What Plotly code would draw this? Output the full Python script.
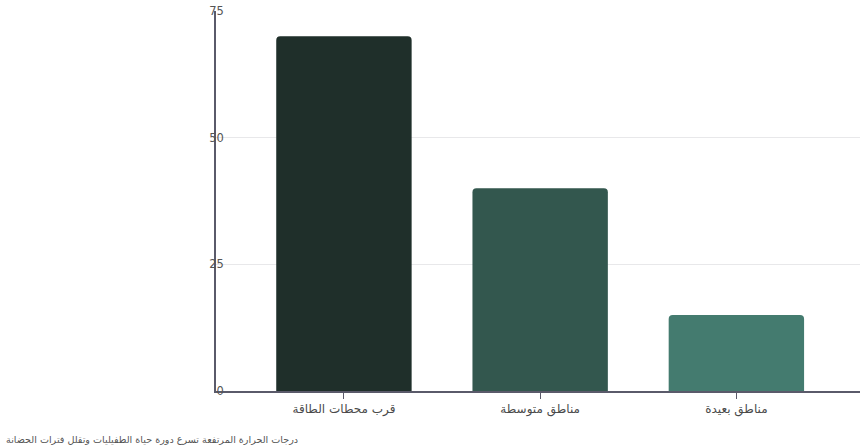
import plotly.graph_objects as go

# Parasite development rates by distance from power plants
categories = ["قرب محطات الطاقة", "مناطق متوسطة", "مناطق بعيدة"]
values = [70, 40, 15]
bar_colors = ["#1f2f2a", "#33574e", "#447b6f"]
y_ticks = [0, 25, 50, 75]
caption = "درجات الحرارة المرتفعة تسرع دورة حياة الطفيليات وتقلل فترات الحضانة"

fig = go.Figure(
    go.Bar(
        x=categories,
        y=values,
        marker=dict(color=bar_colors, cornerradius=4, line=dict(width=0)),
        width=0.69,
        hoverinfo="x+y",
    )
)

plot_w = 860 - 216
fig.update_layout(
    width=860,
    height=448,
    margin=dict(l=216, r=0, t=11, b=57),
    paper_bgcolor="white",
    plot_bgcolor="white",
    font=dict(family="DejaVu Sans", size=11, color="#444444"),
    showlegend=False,
    annotations=[
        dict(
            text=caption,
            xref="paper", yref="paper",
            x=-212 / plot_w, y=-0.108,
            xanchor="left", yanchor="top",
            showarrow=False,
            font=dict(size=9.6, color="#555555"),
        )
    ],
)

fig.update_xaxes(
    range=[-0.652, 2.63],
    showline=True, linecolor="#5a5a6a", linewidth=1.5,
    ticks="outside", ticklen=6, tickcolor="#5a5a6a",
    showgrid=False,
    tickfont=dict(size=12, color="#4a4a4a"),
)
fig.update_yaxes(
    range=[0, 75],
    tickvals=y_ticks,
    showline=True, linecolor="#5a5a6a", linewidth=1.5,
    ticks="", showgrid=True, gridcolor="#e8e8ea", gridwidth=1,
    zeroline=False,
    tickfont=dict(size=11.5, color="#555555"),
    ticklabelstandoff=-12,
)

fig.write_html("out.html")
